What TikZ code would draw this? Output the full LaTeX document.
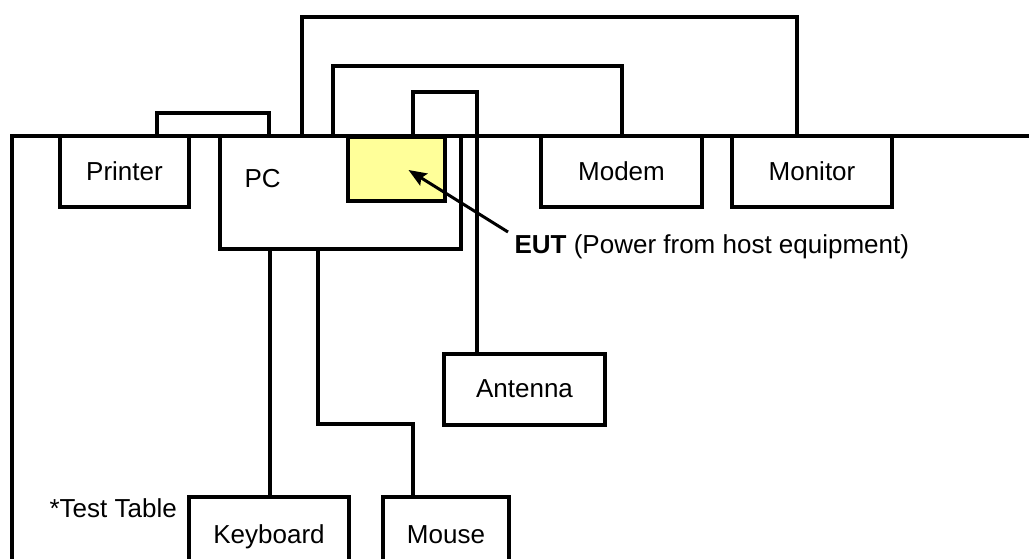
\documentclass[tikz,border=0pt]{standalone}
\usepackage{fontspec}
\setmainfont{Liberation Sans}
\usetikzlibrary{arrows.meta,calc}
\definecolor{eutyellow}{HTML}{FFFF99}
\begin{document}
\begin{tikzpicture}[x=1pt,y=-1pt,
  line width=3.2pt,
  box/.style={draw, rectangle, anchor=north west, inner sep=0pt, outer sep=0pt},
  lbl/.style={inner sep=0pt, anchor=base, font=\fontsize{26}{31}\selectfont},
  cable/.style={draw, line cap=rect, line join=miter},
  pointer/.style={draw, line width=3pt, -{Stealth[length=18pt,width=14pt,inset=3pt]}}]
\useasboundingbox (0,0) rectangle (1029,559);
\clip (0,0) rectangle (1029,559);
\fill[white] (0,0) rectangle (1029,559);

% boxes
\node[box, minimum width=129pt, minimum height=71pt] (printer) at (60,136) {};
\node[box, minimum width=241pt, minimum height=113pt] (pc) at (220,136) {};
\node[box, fill=eutyellow, minimum width=97pt, minimum height=64pt] (eut) at (348,137) {};
\node[box, minimum width=161pt, minimum height=71pt] (modem) at (541,136) {};
\node[box, minimum width=160pt, minimum height=71pt] (monitor) at (732,136) {};
\node[box, minimum width=161pt, minimum height=71pt] (antenna) at (444,354) {};
\node[box, minimum width=160pt, minimum height=90pt] (keyboard) at (189,497) {};
\node[box, minimum width=126pt, minimum height=90pt] (mouse) at (383,497) {};

% labels
\node[lbl] (tprinter) at (124.5,181) {Printer};
\node[lbl, anchor=base west] (tpc) at (243,188) {PC};
\node[lbl] (tmodem) at (621.5,181) {Modem};
\node[lbl] (tmonitor) at (812,181) {Monitor};
\node[lbl] (tantenna) at (524.5,397) {Antenna};
\node[lbl] (tkeyboard) at (269,543) {Keyboard};
\node[lbl] (tmouse) at (446,543) {Mouse};
\node[lbl, anchor=base west] (ttable) at (48,517) {*Test Table};
\node[lbl, anchor=base west] (teut) at (513,253) {\textbf{EUT} (Power from host equipment)};

% test table outline
\coordinate (tableL) at (12,136);
\coordinate (tableR) at (1040,136);
\coordinate (tableB) at (12,570);
\draw[line cap=rect] (tableR) -- (tableL) -- (tableB);

% cables
\draw[cable] (printer.north -| 157,0) |- (269,113) -- (pc.north -| 269,0);
\draw[cable] (pc.north -| 302,0) |- (797,17) -- (monitor.north -| 797,0);
\draw[cable] (pc.north -| 333,0) |- (622,66) -- (modem.north -| 622,0);
\draw[cable] (eut.north -| 413,0) |- (477,92) -- (antenna.north -| 477,0);
\draw[cable] (pc.south -| 270,0) -- (keyboard.north -| 270,0);
\draw[cable] (pc.south -| 318,0) |- (413,424) -- (mouse.north -| 413,0);

% pointer
\coordinate (arrowtail) at (508,232);
\draw[pointer] (arrowtail) -- ($(eut.center)+(12,1)$);
\end{tikzpicture}
\end{document}
